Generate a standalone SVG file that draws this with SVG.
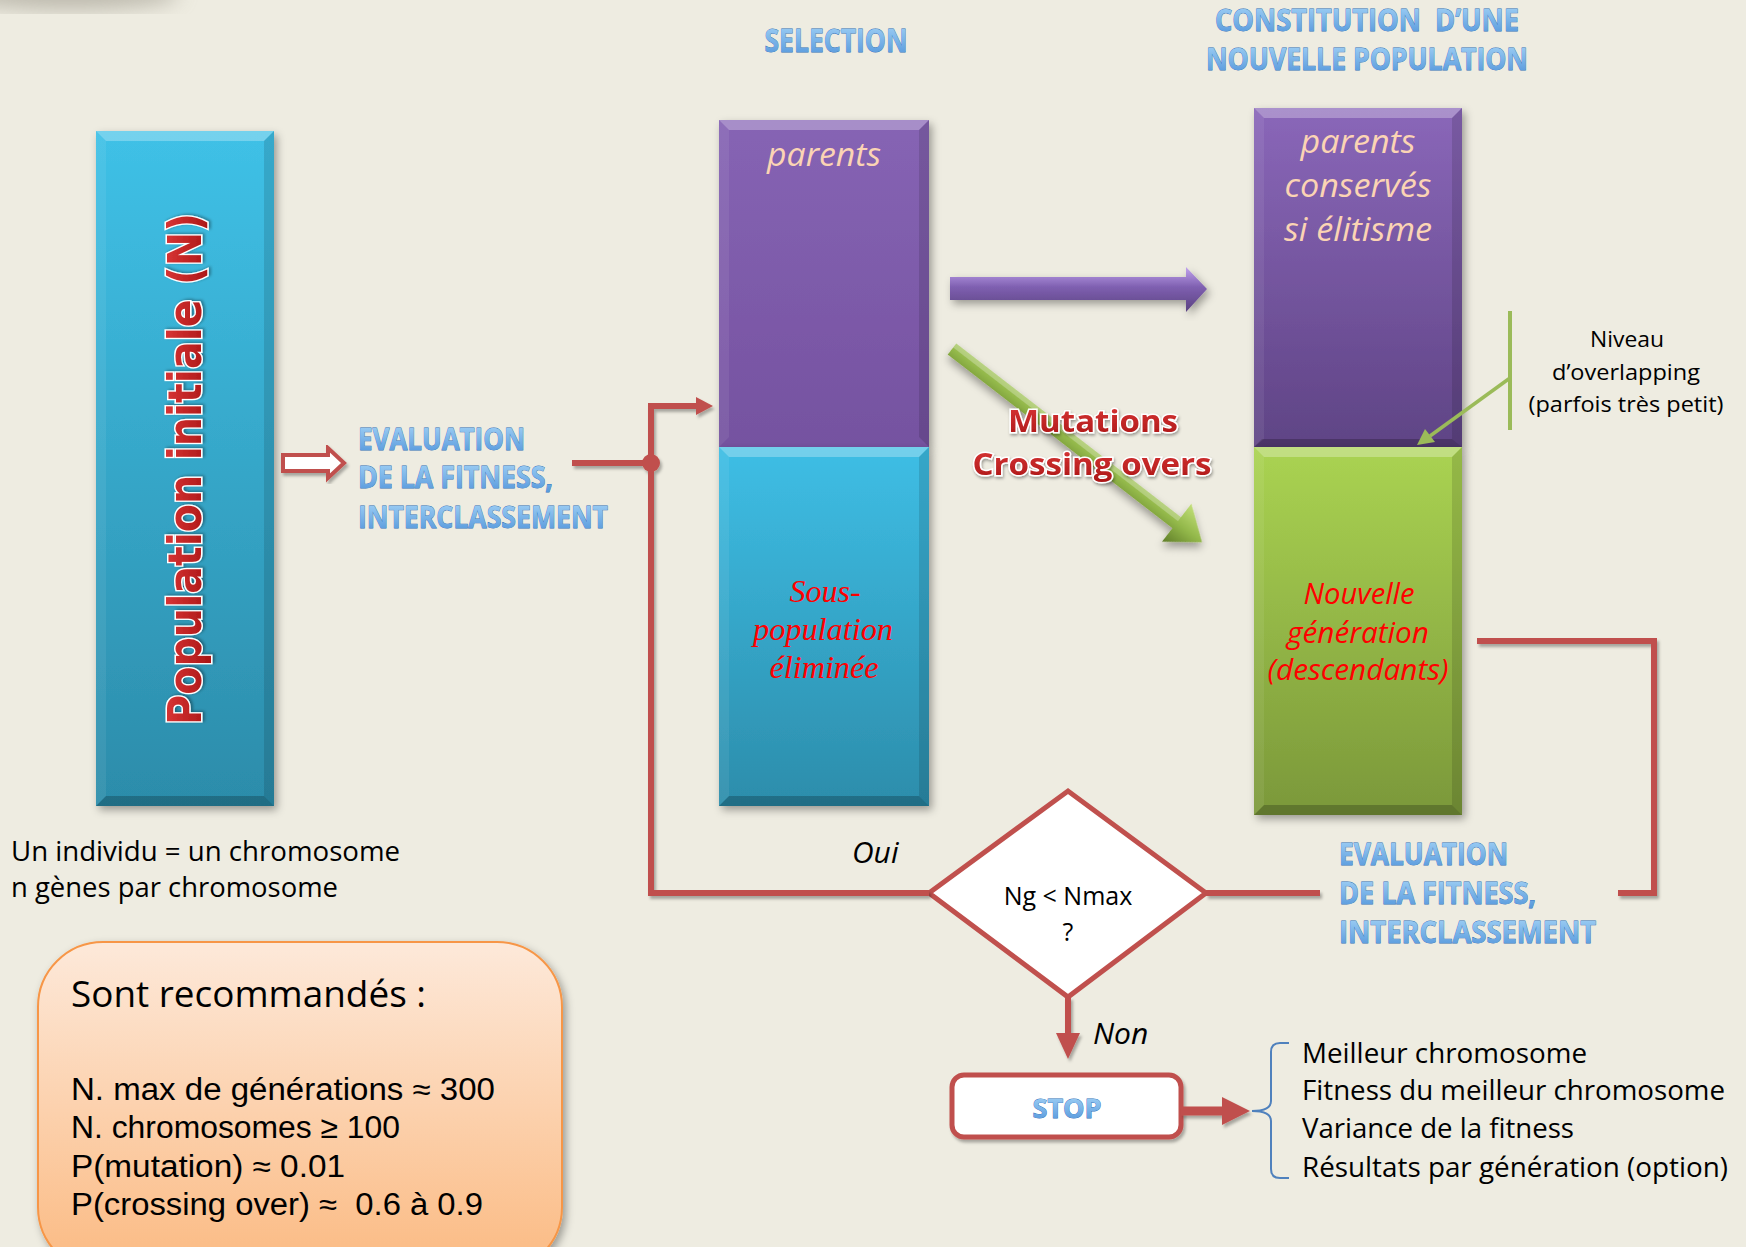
<svg xmlns="http://www.w3.org/2000/svg" width="1746" height="1247" viewBox="0 0 1746 1247">
<style>
.bg{fill:#EEECE1}
.wa{font-family:"Open Sans","Liberation Sans",sans-serif;font-weight:700;fill:url(#waGrad);stroke:#2f6fb8;stroke-width:0.8;paint-order:stroke}
.red{fill:none;stroke:#C0504D;stroke-width:6}
.redf{fill:#C0504D}
.peach{font-family:"Open Sans","Liberation Sans",sans-serif;font-style:italic;fill:#FBD4B4;text-anchor:middle}
.body{font-family:"Open Sans","Liberation Sans",sans-serif;fill:#000}
.arial{font-family:"Liberation Sans",Arial,sans-serif;fill:#000}
.hi{fill:#fff;opacity:0.28}
.lo{fill:#000;opacity:0.22}
.side{fill:#fff;opacity:0.07}
.sider{fill:#000;opacity:0.12}
</style>
<defs>
<linearGradient id="popGrad" x1="0" y1="0" x2="0" y2="1"><stop offset="0" stop-color="#3FC1E7"/><stop offset="1" stop-color="#2C8CAA"/></linearGradient>
<linearGradient id="purpL" x1="0" y1="0" x2="0" y2="1"><stop offset="0" stop-color="#8664B4"/><stop offset="1" stop-color="#7552A0"/></linearGradient>
<linearGradient id="purpR" x1="0" y1="0" x2="0" y2="1"><stop offset="0" stop-color="#8A67B9"/><stop offset="1" stop-color="#5F4485"/></linearGradient>
<linearGradient id="cyanGrad" x1="0" y1="0" x2="0" y2="1"><stop offset="0" stop-color="#3EBEE5"/><stop offset="1" stop-color="#2C8DAB"/></linearGradient>
<linearGradient id="greenGrad" x1="0" y1="0" x2="0" y2="1"><stop offset="0" stop-color="#AAD352"/><stop offset="1" stop-color="#7B983A"/></linearGradient>
<linearGradient id="orangeGrad" x1="0" y1="0" x2="0" y2="1"><stop offset="0" stop-color="#FDE9DA"/><stop offset="1" stop-color="#FBBA82"/></linearGradient>
<linearGradient id="waGrad" x1="0" y1="0" x2="0" y2="1"><stop offset="0" stop-color="#AEDBFA"/><stop offset="1" stop-color="#4A8FD8"/></linearGradient>
<linearGradient id="redText" x1="0" y1="0" x2="0" y2="1"><stop offset="0" stop-color="#E03A3A"/><stop offset="1" stop-color="#A81515"/></linearGradient>
<linearGradient id="greenArrow" x1="0" y1="0" x2="0" y2="1"><stop offset="0" stop-color="#C2E07A"/><stop offset="0.5" stop-color="#93B84A"/><stop offset="1" stop-color="#5F7D28"/></linearGradient>
<linearGradient id="purpArrow" x1="0" y1="0" x2="0" y2="1"><stop offset="0" stop-color="#C2A4EE"/><stop offset="0.45" stop-color="#7E5FB0"/><stop offset="1" stop-color="#5A4280"/></linearGradient>
<filter id="shadow" x="-20%" y="-20%" width="140%" height="140%"><feDropShadow dx="3" dy="4" stdDeviation="4" flood-color="#000" flood-opacity="0.35"/></filter>
<filter id="lshadow" x="-10%" y="-10%" width="120%" height="130%"><feDropShadow dx="2" dy="3" stdDeviation="1.5" flood-color="#000" flood-opacity="0.3"/></filter>
<filter id="tshadow" x="-10%" y="-20%" width="120%" height="150%"><feDropShadow dx="1" dy="2" stdDeviation="1.5" flood-color="#000" flood-opacity="0.35"/></filter>
<filter id="blur"><feGaussianBlur stdDeviation="10"/></filter>
</defs>

<rect class="bg" x="0" y="0" width="1746" height="1247"/>
<ellipse cx="70" cy="-6" rx="110" ry="16" fill="#9d998c" opacity="0.6" filter="url(#blur)"/>

<!-- Population initiale -->
<g id="population">
  <g filter="url(#shadow)"><rect x="96" y="131" width="178" height="675" fill="url(#popGrad)"/></g>
  <polygon class="hi" points="96,131 274,131 264,141 106,141"/>
  <polygon class="lo" points="96,806 274,806 264,796 106,796"/>
  <polygon class="side" points="96,131 106,141 106,796 96,806"/>
  <polygon class="sider" points="274,131 264,141 264,796 274,806"/>
  <text transform="translate(201,725) rotate(-90)" font-family="'DejaVu Sans',Verdana,sans-serif" font-weight="700" font-size="47" textLength="512" lengthAdjust="spacingAndGlyphs" fill="url(#redText)" stroke="#fff" stroke-width="3" paint-order="stroke" filter="url(#tshadow)">Population initiale (N)</text>
</g>

<!-- hollow arrow -->
<g id="arrow-eval">
  <polygon points="283,455 328,455 328,448 344,463 328,478 328,471 283,471" fill="#fff" stroke="#C0504D" stroke-width="4" stroke-linejoin="miter" filter="url(#lshadow)"/>
</g>

<!-- Evaluation left -->
<g id="eval-left">
  <text class="wa" x="358" y="450" font-size="30" textLength="167" lengthAdjust="spacingAndGlyphs">EVALUATION</text>
  <text class="wa" x="358" y="488" font-size="30" textLength="195" lengthAdjust="spacingAndGlyphs">DE LA FITNESS,</text>
  <text class="wa" x="358" y="528" font-size="30" textLength="250" lengthAdjust="spacingAndGlyphs">INTERCLASSEMENT</text>
</g>

<!-- titles -->
<g id="title-selection">
  <text class="wa" x="836" y="52" font-size="33" text-anchor="middle" textLength="143" lengthAdjust="spacingAndGlyphs">SELECTION</text>
</g>
<g id="title-constitution">
  <text class="wa" x="1367" y="31" font-size="30" text-anchor="middle" textLength="304" lengthAdjust="spacingAndGlyphs">CONSTITUTION&#160; D’UNE</text>
  <text class="wa" x="1367" y="70" font-size="30" text-anchor="middle" textLength="322" lengthAdjust="spacingAndGlyphs">NOUVELLE POPULATION</text>
</g>

<!-- Selection column -->
<g id="selection-parents">
  <g filter="url(#shadow)"><rect x="719" y="120" width="210" height="327" fill="url(#purpL)"/></g>
  <polygon class="hi" points="719,120 929,120 919,130 729,130"/>
  <polygon class="side" points="719,120 729,130 729,437 719,447"/>
  <polygon class="sider" points="929,120 919,130 919,437 929,447"/>
  <text class="peach" x="824" y="166" font-size="33" textLength="114" lengthAdjust="spacingAndGlyphs">parents</text>
</g>
<g id="selection-eliminee">
  <g filter="url(#shadow)"><rect x="719" y="447" width="210" height="359" fill="url(#cyanGrad)"/></g>
  <polygon class="hi" points="719,447 929,447 919,457 729,457"/>
  <polygon class="lo" points="719,806 929,806 919,796 729,796"/>
  <polygon class="side" points="719,447 729,457 729,796 719,806"/>
  <polygon class="sider" points="929,447 919,457 919,796 929,806"/>
  <g font-family="'Liberation Serif','Times New Roman',serif" font-style="italic" font-size="32" fill="#FF0000" text-anchor="middle">
    <text x="825" y="602">Sous-</text>
    <text x="823" y="640" textLength="140" lengthAdjust="spacingAndGlyphs">population</text>
    <text x="824" y="678" textLength="109" lengthAdjust="spacingAndGlyphs">éliminée</text>
  </g>
</g>

<!-- New population column -->
<g id="new-parents">
  <g filter="url(#shadow)"><rect x="1254" y="108" width="208" height="339" fill="url(#purpR)"/></g>
  <polygon class="hi" points="1254,108 1462,108 1452,118 1264,118"/>
  <polygon class="lo" points="1254,447 1462,447 1452,439 1262,439"/>
  <polygon class="side" points="1254,108 1264,118 1264,439 1254,447"/>
  <polygon class="sider" points="1462,108 1452,118 1452,439 1462,447"/>
  <text class="peach" x="1358" y="153" font-size="33" textLength="115" lengthAdjust="spacingAndGlyphs">parents</text>
  <text class="peach" x="1358" y="197" font-size="33" textLength="147" lengthAdjust="spacingAndGlyphs">conservés</text>
  <text class="peach" x="1358" y="241" font-size="33" textLength="148" lengthAdjust="spacingAndGlyphs">si élitisme</text>
</g>
<g id="new-generation">
  <g filter="url(#shadow)"><rect x="1254" y="447" width="208" height="368" fill="url(#greenGrad)"/></g>
  <polygon class="hi" points="1254,447 1462,447 1452,457 1264,457"/>
  <polygon class="lo" points="1254,815 1462,815 1452,805 1264,805"/>
  <polygon class="side" points="1254,447 1264,457 1264,805 1254,815"/>
  <polygon class="sider" points="1462,447 1452,457 1452,805 1462,815"/>
  <g font-family="'Open Sans','Liberation Sans',sans-serif" font-style="italic" font-size="30" fill="#FF0000" text-anchor="middle">
    <text x="1359" y="604" textLength="111" lengthAdjust="spacingAndGlyphs">Nouvelle</text>
    <text x="1358" y="643" textLength="142" lengthAdjust="spacingAndGlyphs">génération</text>
    <text x="1358" y="680" textLength="181" lengthAdjust="spacingAndGlyphs">(descendants)</text>
  </g>
</g>

<!-- Niveau d'overlapping -->
<g id="overlap-note">
  <g font-family="'Open Sans','Liberation Sans',sans-serif" font-size="22" fill="#000" text-anchor="middle">
    <text x="1627" y="347" textLength="74" lengthAdjust="spacingAndGlyphs">Niveau</text>
    <text x="1626" y="380" textLength="148" lengthAdjust="spacingAndGlyphs">d’overlapping</text>
    <text x="1626" y="412" textLength="195" lengthAdjust="spacingAndGlyphs">(parfois très petit)</text>
  </g>
</g>

<!-- Decision diamond -->
<g id="decision">
  <polygon points="929,893 1068,791 1206,893 1068,997" fill="#fff" stroke="#C0504D" stroke-width="5" stroke-linejoin="miter"/>
  <text class="body" x="1068" y="905" font-size="25" text-anchor="middle">Ng &lt; Nmax</text>
  <text class="body" x="1068" y="941" font-size="25" text-anchor="middle">?</text>
</g>

<!-- Evaluation right -->
<g id="eval-right">
  <text class="wa" x="1339" y="865" font-size="30" textLength="169" lengthAdjust="spacingAndGlyphs">EVALUATION</text>
  <text class="wa" x="1339" y="904" font-size="30" textLength="197" lengthAdjust="spacingAndGlyphs">DE LA FITNESS,</text>
  <text class="wa" x="1339" y="943" font-size="30" textLength="257" lengthAdjust="spacingAndGlyphs">INTERCLASSEMENT</text>
</g>

<!-- STOP -->
<g id="stop">
  <rect x="952" y="1075" width="229" height="62" rx="12" ry="12" fill="#fff" stroke="#C0504D" stroke-width="5" filter="url(#lshadow)"/>
  <text class="wa" x="1067" y="1118" font-size="26" text-anchor="middle" textLength="69" lengthAdjust="spacingAndGlyphs">STOP</text>
</g>

<!-- Results -->
<g id="results">
  <path d="M1289,1043 L1280,1043 Q1271,1043 1271,1052 L1271,1101 Q1271,1111 1252,1111 Q1271,1111 1271,1121 L1271,1169 Q1271,1178 1280,1178 L1289,1178" fill="none" stroke="#4F81BD" stroke-width="2"/>
  <text class="body" x="1302" y="1063" font-size="27" textLength="285" lengthAdjust="spacingAndGlyphs">Meilleur chromosome</text>
  <text class="body" x="1302" y="1100" font-size="27" textLength="423" lengthAdjust="spacingAndGlyphs">Fitness du meilleur chromosome</text>
  <text class="body" x="1302" y="1138" font-size="27" textLength="272" lengthAdjust="spacingAndGlyphs">Variance de la fitness</text>
  <text class="body" x="1302" y="1177" font-size="27" textLength="426" lengthAdjust="spacingAndGlyphs">Résultats par génération (option)</text>
</g>

<!-- Left note -->
<g id="individu-note">
  <text class="body" x="11" y="861" font-size="27" textLength="389" lengthAdjust="spacingAndGlyphs">Un individu = un chromosome</text>
  <text class="body" x="11" y="897" font-size="27" textLength="327" lengthAdjust="spacingAndGlyphs">n gènes par chromosome</text>
</g>

<!-- Recommandations -->
<g id="recommandes">
  <rect x="38" y="942" width="524" height="330" rx="65" ry="65" fill="url(#orangeGrad)" stroke="#F79646" stroke-width="2" filter="url(#shadow)"/>
  <text class="body" x="71" y="1007" font-size="36" textLength="355" lengthAdjust="spacingAndGlyphs">Sont recommandés :</text>
  <text class="arial" x="71" y="1100" font-size="31" textLength="424" lengthAdjust="spacingAndGlyphs">N. max de générations ≈ 300</text>
  <text class="arial" x="71" y="1138" font-size="31" textLength="329" lengthAdjust="spacingAndGlyphs">N. chromosomes ≥ 100</text>
  <text class="arial" x="71" y="1177" font-size="31" textLength="274" lengthAdjust="spacingAndGlyphs">P(mutation) ≈ 0.01</text>
  <text class="arial" x="71" y="1215" font-size="31" textLength="412" lengthAdjust="spacingAndGlyphs">P(crossing over) ≈ &#160;0.6 à 0.9</text>
</g>

<!-- Connectors -->
<g id="connectors">
  <g filter="url(#lshadow)">
    <polyline class="red" points="572,463 651,463"/>
    <circle class="redf" cx="651" cy="463" r="9"/>
    <polyline class="red" points="700,406 651,406 651,893 929,893"/>
    <polygon class="redf" points="696,397 713,406 696,415"/>
    <polyline class="red" points="1206,893 1320,893"/>
    <polyline class="red" points="1477,641 1654,641 1654,893 1618,893"/>
    <polyline class="red" points="1068,997 1068,1036"/>
    <polygon class="redf" points="1056,1033 1068,1059 1080,1033"/>
    <polyline fill="none" stroke="#C0504D" stroke-width="9" points="1181,1111 1224,1111"/>
    <polygon class="redf" points="1222,1097 1250,1111 1222,1125"/>
  </g>
  <!-- purple arrow -->
  <g filter="url(#shadow)">
    <polygon points="950,277 1186,277 1186,267 1207,289 1186,312 1186,300 950,300" fill="url(#purpArrow)"/>
  </g>
  <!-- green diagonal arrow -->
  <g filter="url(#shadow)" transform="translate(952,349) rotate(37.7)">
    <polygon points="0,-7 284,-7 284,-24 316,0 284,24 284,7 0,7" fill="url(#greenArrow)"/>
    <polygon points="0,-7 284,-7 284,-2 0,-2" fill="#fff" opacity="0.25"/>
  </g>
  <!-- green overlap marker -->
  <line x1="1510" y1="311" x2="1510" y2="430" stroke="#9BBB59" stroke-width="4"/>
  <line x1="1510" y1="378" x2="1430" y2="436" stroke="#9BBB59" stroke-width="3.5"/>
  <polygon points="1417,445 1425,429 1435,442" fill="#9BBB59"/>
</g>

<!-- Mutations label -->
<g id="mutations-label">
  <g font-family="'Open Sans','Liberation Sans',sans-serif" font-weight="700" font-size="31" fill="url(#redText)" stroke="#fff" stroke-width="3" paint-order="stroke" text-anchor="middle" filter="url(#tshadow)">
    <text x="1093" y="432" textLength="170" lengthAdjust="spacingAndGlyphs">Mutations</text>
    <text x="1092" y="475" textLength="239" lengthAdjust="spacingAndGlyphs">Crossing overs</text>
  </g>
</g>

<!-- Oui / Non -->
<g id="oui-label"><text class="body" x="852" y="863" font-size="30" font-style="italic">Oui</text></g>
<g id="non-label"><text class="body" x="1093" y="1044" font-size="30" font-style="italic">Non</text></g>
</svg>
